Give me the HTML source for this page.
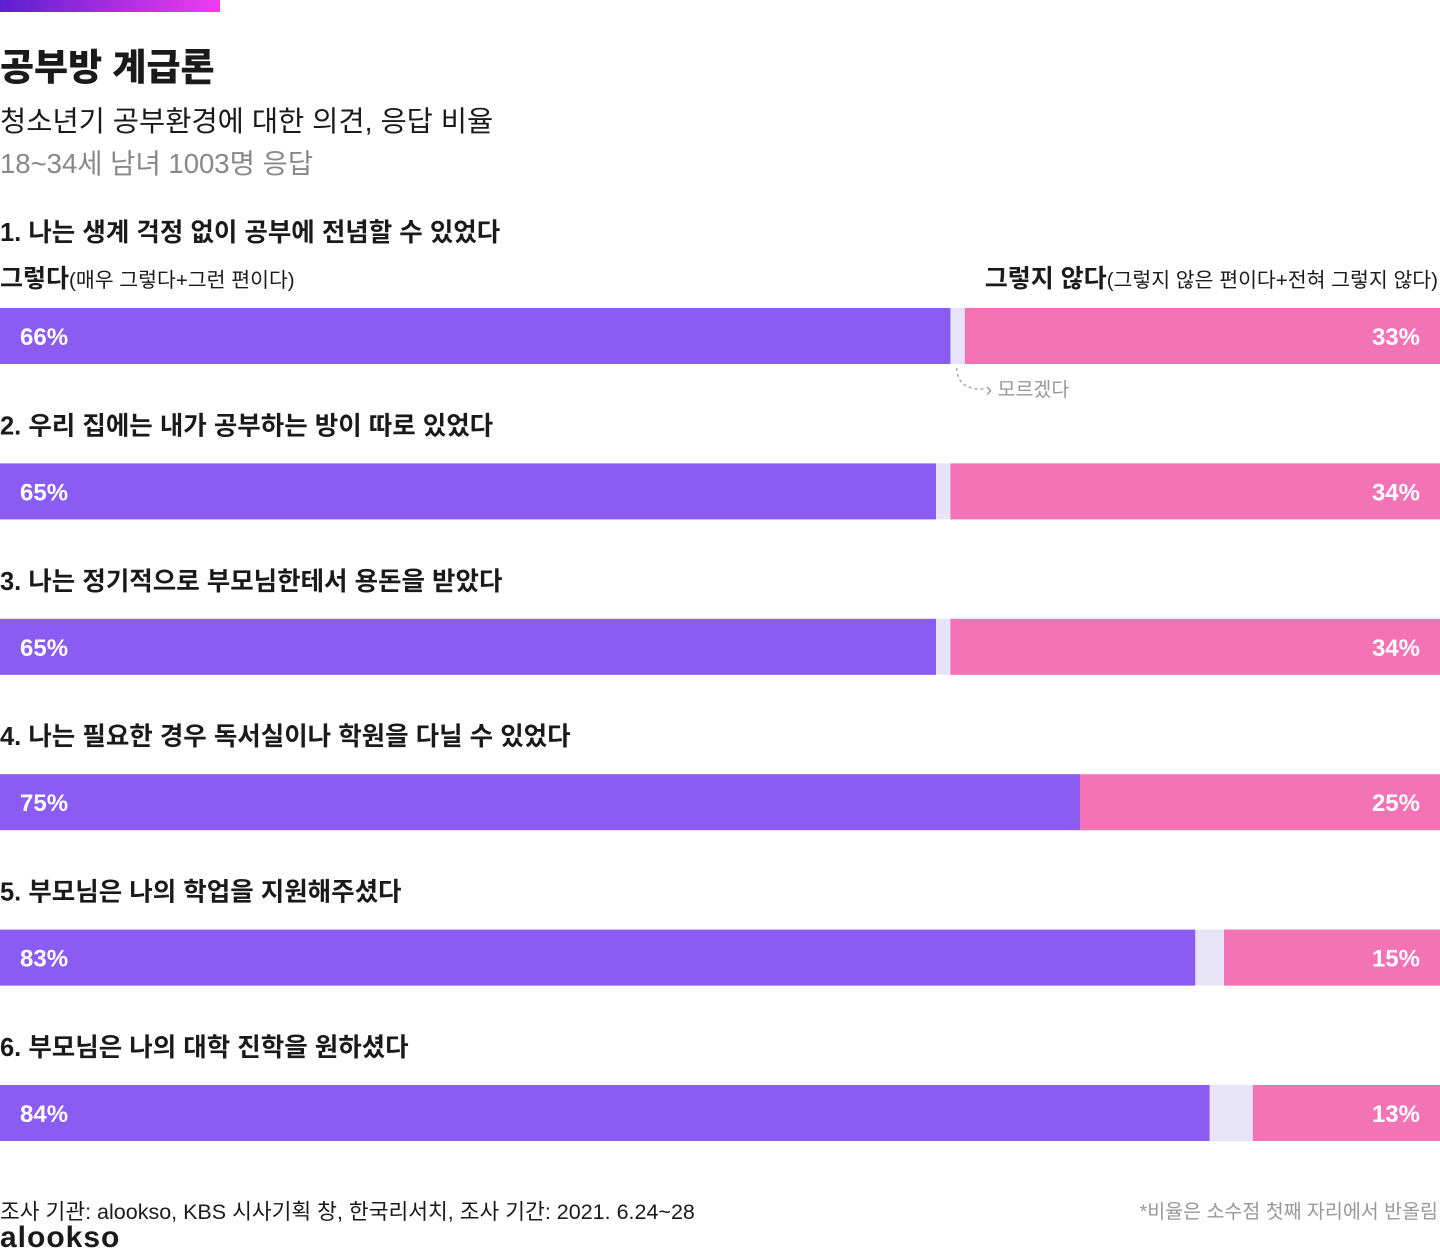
<!DOCTYPE html>
<html><head><meta charset="utf-8">
<style>
body{margin:0;width:1440px;height:1254px;background:#fff;position:relative;overflow:hidden;font-family:"Liberation Sans","Noto Sans CJK KR",sans-serif;color:#1a1a1a}
.a{position:absolute;white-space:nowrap}
</style></head><body>
<div class="a" style="left:0;top:0;width:220px;height:12px;background:linear-gradient(90deg,#5b1fd0,#f03cf0)"></div>
<div class="a" style="left:0;top:37px;font-size:37px;font-weight:900">공부방 계급론</div>
<div class="a" style="left:0;top:99px;font-size:28.5px">청소년기 공부환경에 대한 의견, 응답 비율</div>
<div class="a" style="left:0;top:141px;font-size:27.5px;color:#888">18~34세 남녀 1003명 응답</div>
<div class="a" style="left:0;top:259px;font-size:25px;font-weight:bold">그렇다<span style="font-size:20.5px;font-weight:normal">(매우 그렇다+그런 편이다)</span></div>
<div class="a" style="right:2px;top:259px;font-size:25px;font-weight:bold">그렇지 않다<span style="font-size:20.5px;font-weight:normal">(그렇지 않은 편이다+전혀 그렇지 않다)</span></div>
<svg id="chart" class="a" style="left:0;top:0" width="1440" height="1254"></svg>
<div class="a" style="left:0;top:1195px;font-size:21.5px">조사 기관: alookso, KBS 시사기획 창, 한국리서치, 조사 기간: 2021. 6.24~28</div>
<div class="a" style="right:2px;top:1195px;font-size:19.5px;color:#999">*비율은 소수점 첫째 자리에서 반올림</div>
<div class="a" style="left:0;top:1221px;font-size:30px;font-weight:900;letter-spacing:1px">alookso</div>
<script>
const questions=["1. 나는 생계 걱정 없이 공부에 전념할 수 있었다","2. 우리 집에는 내가 공부하는 방이 따로 있었다","3. 나는 정기적으로 부모님한테서 용돈을 받았다","4. 나는 필요한 경우 독서실이나 학원을 다닐 수 있었다","5. 부모님은 나의 학업을 지원해주셨다","6. 부모님은 나의 대학 진학을 원하셨다"];
const yesVals=[66,65,65,75,83,84];
const noVals=[33,34,34,25,15,13];
const svg=document.getElementById('chart');
const NS='http://www.w3.org/2000/svg';
const W=1440;
const x=v=>v/100*W;
function mk(t,a){const e=document.createElementNS(NS,t);for(const k in a)e.setAttribute(k,a[k]);svg.appendChild(e);return e;}
questions.forEach((q,i)=>{
  const top=308+i*155.4, h=56;
  const tt=mk('text',{x:0,y:i==0?top-67:top-29,'font-size':25.5,'font-weight':'bold',fill:'#1a1a1a'});
  tt.textContent=q;
  
  
  const bg=mk('rect',{x:0,y:top,width:W,height:h,fill:'#e8e4f8'});
  
  
  const y1=mk('rect',{x:0,y:top,width:x(yesVals[i]),height:h,fill:'#8b5cf2'});
  
  
  const n1=mk('rect',{x:W-x(noVals[i]),y:top,width:x(noVals[i]),height:h,fill:'#f472b6'});
  
  
  const l1=mk('text',{x:20,y:top+37,'font-size':24,'font-weight':'bold',fill:'#fff'});
  l1.textContent=yesVals[i]+'%';
  
  
  const l2=mk('text',{x:W-20,y:top+37,'font-size':24,'font-weight':'bold',fill:'#fff','text-anchor':'end'});
  l2.textContent=noVals[i]+'%';
  
  
  if(i==0){
    const gx=(x(yesVals[i])+W-x(noVals[i]))/2;
    const p=mk('path',{d:`M${gx-1} ${top+h+4} Q${gx} ${top+h+26} ${gx+26} ${top+h+25}`,fill:'none',stroke:'#aaa','stroke-dasharray':'3 3','stroke-width':1.5});
    
    
    const a=mk('text',{x:gx+28,y:top+h+32,'font-size':19.5,fill:'#999'});
    a.textContent='› 모르겠다';
    
    
  }
});
</script>
</body></html>
